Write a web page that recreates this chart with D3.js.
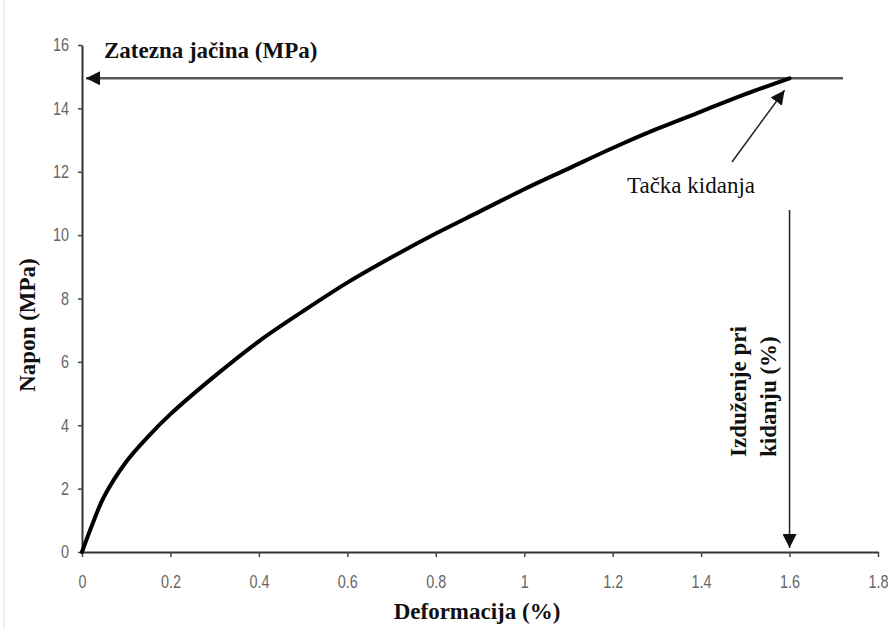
<!DOCTYPE html>
<html>
<head>
<meta charset="utf-8">
<script src="https://cdn.jsdelivr.net/npm/d3@7"></script>
<style>
  html, body { margin: 0; padding: 0; background: #fff; }
  svg { display: block; }
</style>
</head>
<body>
<div id="chart"></div>
<script>
// Napon–deformacija kriva (vrijednosti očitane sa slike)
const deformacija = [0, 0.02, 0.05, 0.10, 0.15, 0.20, 0.30, 0.40, 0.50, 0.60, 0.70, 0.80, 0.90, 1.00, 1.10, 1.20, 1.30, 1.40, 1.50, 1.60];
const napon       = [0, 0.75, 1.75, 2.85, 3.65, 4.35, 5.55, 6.65, 7.6, 8.5, 9.3, 10.05, 10.75, 11.45, 12.1, 12.75, 13.35, 13.9, 14.45, 14.95];

const xTicks = [0, 0.2, 0.4, 0.6, 0.8, 1, 1.2, 1.4, 1.6, 1.8];
const yTicks = [0, 2, 4, 6, 8, 10, 12, 14, 16];

const zateznaJacina = 14.95;  // MPa
const izduzenje = 1.6;        // %

const W = 888, H = 630;
const M = { top: 45, right: 10, bottom: 78, left: 82 };

const svg = d3.select("#chart").append("svg")
  .attr("width", W)
  .attr("height", H);

svg.append("rect").attr("width", W).attr("height", H).attr("fill", "#fff");
// blijeda ivica skenirane slike
svg.append("line")
  .attr("x1", 4).attr("x2", 4).attr("y1", 0).attr("y2", H)
  .attr("stroke", "#e4e4e4").attr("stroke-width", 1);

const x = d3.scaleLinear().domain([0, 1.8]).range([M.left, 878]);
const y = d3.scaleLinear().domain([0, 16]).range([H - M.bottom, M.top]);

const fmt = d => String(+d.toFixed(1));
const tickFont = "'Liberation Sans', Arial, sans-serif";
const squeeze = 0.8;   // uski font kao u originalu

// Ose
const gx = svg.append("g")
  .attr("transform", `translate(0,${y(0)})`)
  .call(d3.axisBottom(x).tickValues(xTicks).tickSize(5).tickSizeOuter(0).tickPadding(18).tickFormat(fmt));

const gy = svg.append("g")
  .attr("transform", `translate(${x(0)},0)`)
  .call(d3.axisLeft(y).tickValues(yTicks).tickSize(4).tickSizeOuter(0).tickPadding(9).tickFormat(fmt));

[gx, gy].forEach(g => {
  g.select(".domain").attr("stroke", "#333").attr("stroke-width", 2);
  g.selectAll(".tick line").attr("stroke", "#444").attr("stroke-width", 1.5);
  g.selectAll(".tick text")
    .attr("transform", `scale(${squeeze},1)`)
    .style("font-family", tickFont)
    .style("font-size", "18px")
    .style("fill", "#666");
});
gy.selectAll(".tick text").attr("x", -13 / squeeze);

// Strelice
const defs = svg.append("defs");
defs.append("marker")
  .attr("id", "arr")
  .attr("viewBox", "0 -5 10 10")
  .attr("refX", 10)
  .attr("refY", 0)
  .attr("markerUnits", "userSpaceOnUse")
  .attr("markerWidth", 14)
  .attr("markerHeight", 14)
  .attr("orient", "auto")
  .append("path")
  .attr("d", "M0,-5L10,0L0,5Z")
  .attr("fill", "#111");

// Horizontalna linija zatezne jačine
svg.append("line")
  .attr("x1", 843)
  .attr("x2", x(0) + 4)
  .attr("y1", y(zateznaJacina))
  .attr("y2", y(zateznaJacina))
  .attr("stroke", "#555")
  .attr("stroke-width", 2.5)
  .attr("marker-end", "url(#arr)");

// Vertikalna linija izduženja
svg.append("line")
  .attr("x1", x(izduzenje))
  .attr("x2", x(izduzenje))
  .attr("y1", 210)
  .attr("y2", y(0) - 4)
  .attr("stroke", "#222")
  .attr("stroke-width", 1.5)
  .attr("marker-end", "url(#arr)");

// Kriva
const pts = deformacija.map((d, i) => [d, napon[i]]);
svg.append("path")
  .datum(pts)
  .attr("fill", "none")
  .attr("stroke", "#000")
  .attr("stroke-width", 4)
  .attr("stroke-linecap", "round")
  .attr("stroke-linejoin", "round")
  .attr("d", d3.line().x(d => x(d[0])).y(d => y(d[1])).curve(d3.curveCatmullRom.alpha(0.5)));

// Strelica prema tački kidanja
svg.append("line")
  .attr("x1", 732)
  .attr("y1", 162)
  .attr("x2", x(izduzenje) - 5)
  .attr("y2", y(zateznaJacina) + 12)
  .attr("stroke", "#222")
  .attr("stroke-width", 1.5)
  .attr("marker-end", "url(#arr)");

// Tekstovi
const serif = "'Liberation Serif', 'Times New Roman', serif";

svg.append("text")
  .attr("x", 104)
  .attr("y", 58)
  .style("font-family", serif)
  .style("font-weight", "bold")
  .style("font-size", "23px")
  .style("fill", "#111")
  .text("Zatezna jačina (MPa)");

svg.append("text")
  .attr("x", 627)
  .attr("y", 193)
  .style("font-family", serif)
  .style("font-size", "23px")
  .style("fill", "#111")
  .text("Tačka kidanja");

svg.append("text")
  .attr("x", 477)
  .attr("y", 619)
  .attr("text-anchor", "middle")
  .style("font-family", serif)
  .style("font-weight", "bold")
  .style("font-size", "23px")
  .style("fill", "#111")
  .text("Deformacija (%)");

svg.append("text")
  .attr("transform", "translate(35,325) rotate(-90)")
  .attr("text-anchor", "middle")
  .style("font-family", serif)
  .style("font-weight", "bold")
  .style("font-size", "23px")
  .style("fill", "#111")
  .text("Napon (MPa)");

const iz = svg.append("text")
  .attr("transform", "translate(746,457) rotate(-90)")
  .style("font-family", serif)
  .style("font-weight", "bold")
  .style("font-size", "23px")
  .style("fill", "#111");
iz.append("tspan").attr("x", 0).attr("y", 0).text("Izduženje pri");
iz.append("tspan").attr("x", 0).attr("y", 30).text("kidanju (%)");
</script>
</body>
</html>
